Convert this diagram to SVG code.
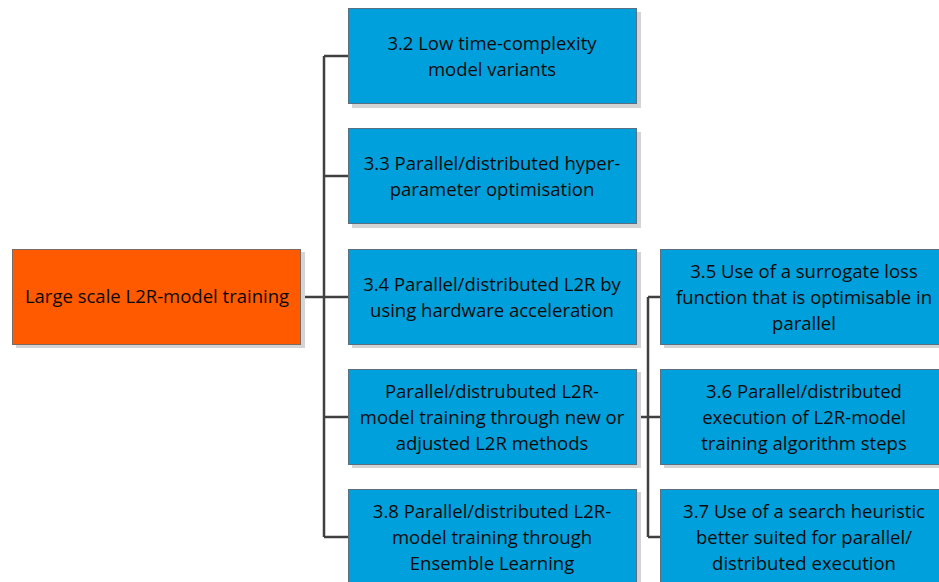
<svg xmlns="http://www.w3.org/2000/svg" width="939" height="582" viewBox="0 0 939 582">
<defs>
<style>
.sh{fill:#d4d4d4}
.blue{fill:#00A0DC;stroke:#5a6f80;stroke-width:1}
.orange{fill:#FF5A00;stroke:#7a6a60;stroke-width:1}
text{font-family:"Open Sans","Liberation Sans",sans-serif;font-size:18.5px;fill:#0a0a0a;text-anchor:middle}
.c{fill:none;stroke:#404040;stroke-width:2.5}
</style>
</defs>
<rect width="939" height="582" fill="#fff"/>
<g id="connectors">
<path class="c" d="M301 297H348M324 56V537M324 56H348M324 176H348M324 417H348M324 537H348"/>
<path class="c" d="M636 417H660M648 297V537M648 297H660M648 537H660"/>
</g>
<g id="root">
<rect class="sh" x="16" y="252" width="289" height="96"/>
<rect class="orange" x="12.5" y="249.5" width="288" height="95"/>
<text x="157" y="303">Large scale L2R-model training</text>
</g>
<g id="n32">
<rect class="sh" x="352" y="12" width="289" height="96"/>
<rect class="blue" x="348.5" y="8.5" width="288" height="95"/>
<text x="492" y="50">3.2 Low time-complexity</text>
<text x="492" y="76">model variants</text>
</g>
<g id="n33">
<rect class="sh" x="352" y="132" width="289" height="96"/>
<rect class="blue" x="348.5" y="128.5" width="288" height="95"/>
<text x="492" y="170">3.3 Parallel/distributed hyper-</text>
<text x="492" y="196">parameter optimisation</text>
</g>
<g id="n34">
<rect class="sh" x="352" y="252" width="289" height="96"/>
<rect class="blue" x="348.5" y="249.5" width="288" height="95"/>
<text x="492" y="291">3.4 Parallel/distributed L2R by</text>
<text x="492" y="317">using hardware acceleration</text>
</g>
<g id="nnew">
<rect class="sh" x="352" y="372" width="289" height="96"/>
<rect class="blue" x="348.5" y="369.5" width="288" height="95"/>
<text x="492" y="398">Parallel/distrubuted L2R-</text>
<text x="492" y="424">model training through new or</text>
<text x="492" y="450">adjusted L2R methods</text>
</g>
<g id="n38">
<rect class="sh" x="352" y="492" width="289" height="96"/>
<rect class="blue" x="348.5" y="489.5" width="288" height="95"/>
<text x="492" y="518">3.8 Parallel/distributed L2R-</text>
<text x="492" y="544">model training through</text>
<text x="492" y="570">Ensemble Learning</text>
</g>
<g id="n35">
<rect class="sh" x="664" y="252" width="289" height="96"/>
<rect class="blue" x="660.5" y="249.5" width="288" height="95"/>
<text x="804" y="278">3.5 Use of a surrogate loss</text>
<text x="804" y="304">function that is optimisable in</text>
<text x="804" y="330">parallel</text>
</g>
<g id="n36">
<rect class="sh" x="664" y="372" width="289" height="96"/>
<rect class="blue" x="660.5" y="369.5" width="288" height="95"/>
<text x="804" y="398">3.6 Parallel/distributed</text>
<text x="804" y="424">execution of L2R-model</text>
<text x="804" y="450">training algorithm steps</text>
</g>
<g id="n37">
<rect class="sh" x="664" y="492" width="289" height="96"/>
<rect class="blue" x="660.5" y="489.5" width="288" height="95"/>
<text x="804" y="518">3.7 Use of a search heuristic</text>
<text x="804" y="544">better suited for parallel/</text>
<text x="804" y="570">distributed execution</text>
</g>
</svg>
